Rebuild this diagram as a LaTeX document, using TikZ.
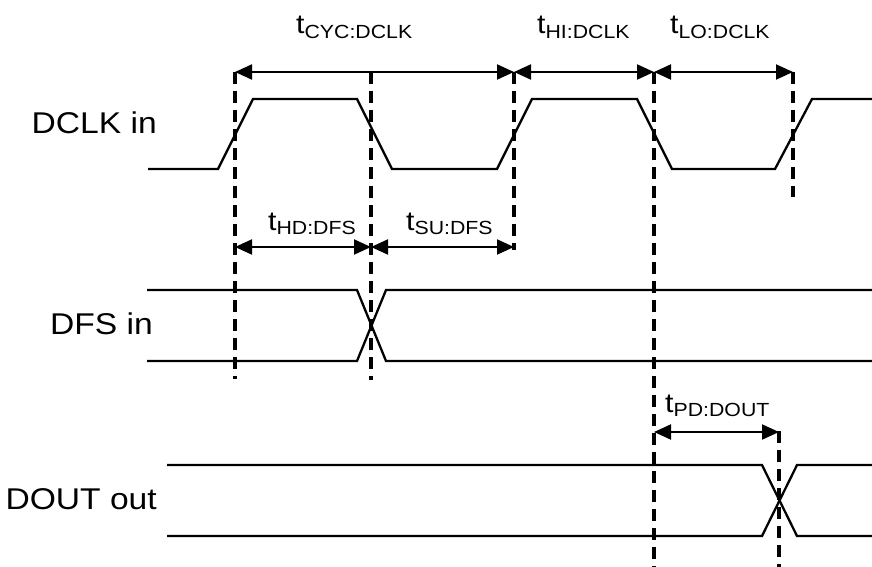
\documentclass[tikz,border=0pt]{standalone}
\usepackage{fontspec}
\setmainfont[FakeStretch=1.12]{Liberation Sans}
\usetikzlibrary{arrows.meta}
\newcommand{\tlab}[1]{{\fontsize{27}{28}\selectfont t}{\fontsize{19}{20}\selectfont\raisebox{-4.5pt}{#1}}}
\tikzset{
  sig/.style={line width=2.3pt, line join=miter},
  guide/.style={line width=3.2pt, dash pattern=on 12pt off 7pt},
  dim/.style={line width=2pt, {Triangle[length=17pt,width=15pt]}-{Triangle[length=17pt,width=15pt]}},
  signame/.style={font=\fontsize{30}{32}\selectfont, inner sep=0pt, anchor=base east},
  tl/.style={inner sep=0pt, anchor=base west}
}
\begin{document}
\begin{tikzpicture}[x=1pt,y=-1pt]
\useasboundingbox (0,0) rectangle (872,567);
% signal names
\node[signame] (ndclk) at (157,134) {DCLK in};
\node[signame] (ndfs) at (153,334) {DFS in};
\node[signame] (ndout) at (157,509) {DOUT out};
% waveforms
\draw[sig] (148,169) -- (218,169) -- (253,99) -- (357,99) -- (392,169) -- (497,169) -- (532,99) -- (637,99) -- (672,169) -- (775,169) -- (812,99) -- (872,99);
\draw[sig] (147,290) -- (357,290) -- (386,361) -- (872,361);
\draw[sig] (147,361) -- (357,361) -- (386,290) -- (872,290);
\draw[sig] (167,465) -- (762,465) -- (797,536) -- (872,536);
\draw[sig] (167,536) -- (762,536) -- (797,465) -- (872,465);
% guide coordinates
\coordinate (a1) at (235,72);  \coordinate (a2) at (235,379);
\coordinate (b1) at (371,72);  \coordinate (b2) at (371,380);
\coordinate (c1) at (514,72);  \coordinate (c2) at (514,250);
\coordinate (d1) at (654,72);  \coordinate (d2) at (654,567);
\coordinate (e1) at (793,72);  \coordinate (e2) at (793,197);
\coordinate (f1) at (779,431); \coordinate (f2) at (779,567);
\draw[guide] (a1) -- (a2);
\draw[guide] (b1) -- (b2);
\draw[guide] (c1) -- (c2);
\draw[guide] (d1) -- (d2);
\draw[guide] (e1) -- (e2);
\draw[guide] (f1) -- (f2);
% dimension arrows
\coordinate (ha) at (235,247); \coordinate (hb) at (371,247); \coordinate (hc) at (514,247);
\coordinate (pa) at (654,432); \coordinate (pb) at (779,432);
\draw[dim] (a1) -- (c1);
\draw[dim] (c1) -- (d1);
\draw[dim] (d1) -- (e1);
\draw[dim] (ha) -- (hb);
\draw[dim] (hb) -- (hc);
\draw[dim] (pa) -- (pb);
% labels
\node[tl] (lcyc) at (296,34) {\tlab{CYC:DCLK}};
\node[tl] (lhi) at (537,34) {\tlab{HI:DCLK}};
\node[tl] (llo) at (670,34) {\tlab{LO:DCLK}};
\node[tl] (lhd) at (268,230) {\tlab{HD:DFS}};
\node[tl] (lsu) at (406,230) {\tlab{SU:DFS}};
\node[tl] (lpd) at (665,412) {\tlab{PD:DOUT}};
\end{tikzpicture}
\end{document}
